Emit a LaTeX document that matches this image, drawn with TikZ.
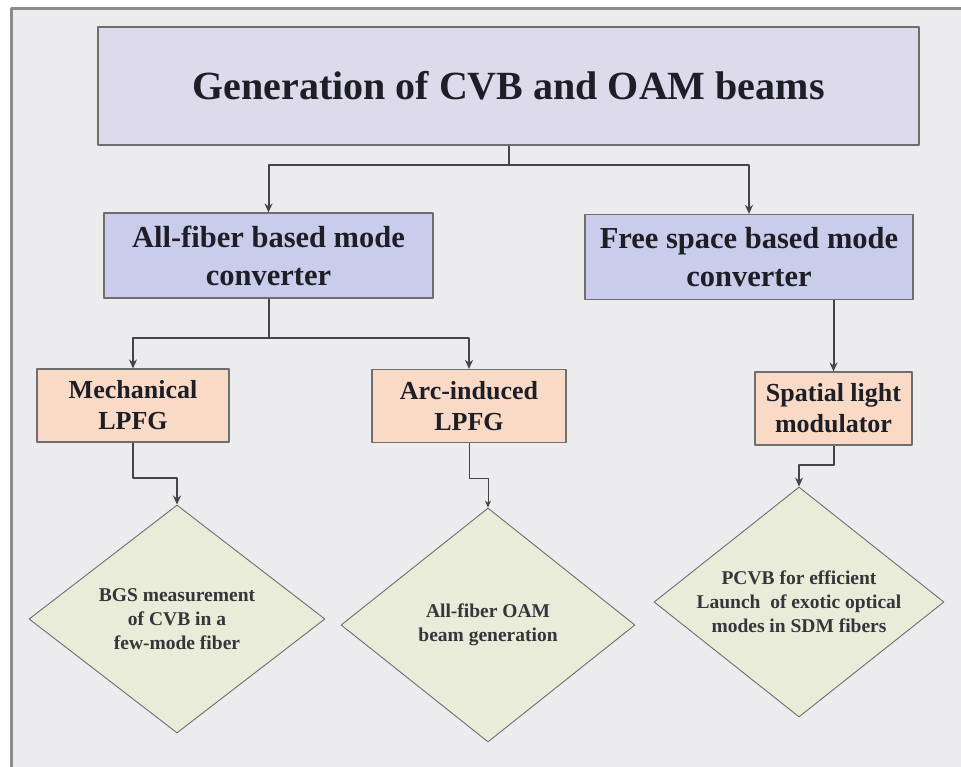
\documentclass[tikz,border=0pt]{standalone}
\usepackage{fontspec}
\setmainfont{Liberation Serif}
\usetikzlibrary{shapes.geometric,arrows.meta}
\definecolor{bgcol}{HTML}{ECECEE}
\definecolor{framecol}{HTML}{8C8C8C}
\definecolor{titlecol}{HTML}{DCDAEB}
\definecolor{bluecol}{HTML}{C9CCEA}
\definecolor{peachcol}{HTML}{F8DAC6}
\definecolor{leafcol}{HTML}{E9ECD8}
\definecolor{edgecol}{HTML}{6E6E6E}
\definecolor{linecol}{HTML}{454545}
\definecolor{inkcol}{HTML}{1E1E26}

\begin{document}
\begin{tikzpicture}[x=1pt, y=-1pt, >={Stealth[length=9pt,width=8pt]}, line join=round,
	box/.style={draw=edgecol, line width=1.2pt, inner sep=0pt, align=center, text=inkcol},
	topbox/.style={box, fill=titlecol, minimum width=821pt, minimum height=118pt, font=\bfseries\fontsize{40}{44}\selectfont},
	midbox/.style={box, fill=bluecol, minimum width=329pt, minimum height=85pt, font=\bfseries\fontsize{30.5}{38}\selectfont},
	lowbox/.style={box, fill=peachcol, minimum height=73pt, font=\bfseries\fontsize{26}{31}\selectfont},
	leaf/.style={diamond, aspect=1.3, draw=edgecol, line width=0.9pt, fill=leafcol, inner sep=0pt, align=center, text=inkcol!90, font=\bfseries\fontsize{19.5}{24}\selectfont},
	link/.style={->, draw=linecol, line width=2pt}]
	\useasboundingbox (0,0) rectangle (961,767);
	% fond et cadre
	\fill[bgcol] (11,9) rectangle (961,767);
	\draw[framecol, line width=3pt] (11,767) -- (11,9) -- (961,9);
	% niveau 1 et 2
	\node[topbox] (title) at (508.5,86) {Generation of CVB and OAM beams};
	\node[midbox] (fiber) at (268.5,255.5) {All-fiber based mode\\converter};
	\node[midbox, minimum width=328pt] (free) at (749,257) {Free space based mode\\converter};
	% niveau 3
	\node[lowbox, minimum width=192pt] (mech) at (133,405.5) {Mechanical\\LPFG};
	\node[lowbox, minimum width=194pt] (arc) at (469,406) {Arc-induced\\LPFG};
	\node[lowbox, minimum width=157pt] (slm) at (833.5,408.5) {Spatial light\\modulator};
	% applications
	\node[leaf, minimum width=296pt, minimum height=228pt] (bgs) at (177,619) {BGS measurement\\of CVB in a\\few-mode fiber};
	\node[leaf, minimum width=294pt, minimum height=234pt] (oam) at (488,625) {All-fiber OAM\\beam generation};
	\node[leaf, minimum width=290pt, minimum height=230pt] (pcvb) at (799,602) {PCVB for efficient\\Launch~ of exotic optical\\modes in SDM fibers};
	% liaisons
	\draw[link] (title.south) -- ++(0,19) -| (fiber.north);
	\draw[link] (title.south) -- ++(0,19) -| (free.north);
	\draw[link] (fiber.south) -- ++(0,39) -| (mech.north);
	\draw[link] (fiber.south) -- ++(0,39) -| (arc.north);
	\draw[link] (free.south -| slm.north) -- (slm.north);
	\draw[link] (mech.south) -- ++(0,35) -| (bgs.north);
	\draw[link, line width=1pt, >={Stealth[length=7pt,width=6pt]}] (arc.south) -- ++(0,35) -| (oam.north);
	\draw[link] (slm.south) -- ++(0,19) -| (pcvb.north);
\end{tikzpicture}
\end{document}
